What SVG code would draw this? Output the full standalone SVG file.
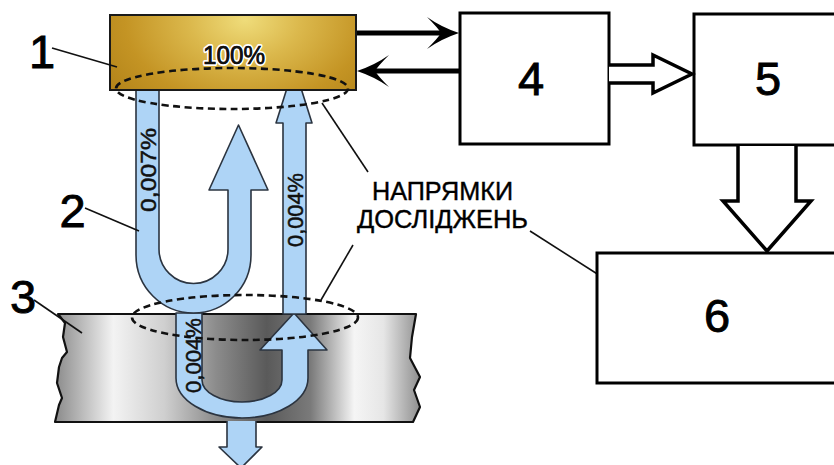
<svg xmlns="http://www.w3.org/2000/svg" width="834" height="465" viewBox="0 0 834 465">
  <defs>
    <radialGradient id="gold" gradientUnits="userSpaceOnUse" cx="245" cy="20" r="160" gradientTransform="translate(245 20) scale(1 0.7) translate(-245 -20)">
      <stop offset="0" stop-color="#efdc7a"/>
      <stop offset="0.35" stop-color="#dbb84c"/>
      <stop offset="0.75" stop-color="#c49424"/>
      <stop offset="1" stop-color="#b5861b"/>
    </radialGradient>
    <linearGradient id="steel" gradientUnits="userSpaceOnUse" x1="55" y1="0" x2="420" y2="0">
      <stop offset="0" stop-color="#8a8a8a"/>
      <stop offset="0.16" stop-color="#f3f3f3"/>
      <stop offset="0.3" stop-color="#cfcfcf"/>
      <stop offset="0.44" stop-color="#8c8c8c"/>
      <stop offset="0.58" stop-color="#5a5a5a"/>
      <stop offset="0.7" stop-color="#7a7a7a"/>
      <stop offset="0.82" stop-color="#f5f5f5"/>
      <stop offset="0.9" stop-color="#e6e6e6"/>
      <stop offset="1" stop-color="#8e8e8e"/>
    </linearGradient>
    <style>
      .flow { fill: #aed4f6; stroke: #2b3440; stroke-width: 1.6; stroke-linejoin: round; }
      .zone { fill: none; stroke: #111; stroke-width: 2.6; stroke-dasharray: 7 4.5; }
      .lead { fill: none; stroke: #111; stroke-width: 1.6; }
      .box { fill: #fff; stroke: #000; stroke-width: 3; }
      .hollow { fill: #fff; stroke: #000; stroke-width: 3.5; stroke-linejoin: miter; }
      .num { font-family: "Liberation Sans", Arial, sans-serif; font-size: 47px; fill: #000; stroke: #000; stroke-width: 0.9; text-anchor: middle; }
      .pct { font-family: "Liberation Sans", Arial, sans-serif; font-size: 22px; fill: #111; stroke: #111; stroke-width: 0.5; text-anchor: middle; }
      .cap { font-family: "Liberation Sans", Arial, sans-serif; font-size: 25px; fill: #000; stroke: #000; stroke-width: 0.4; text-anchor: middle; }
    </style>
  </defs>

  <!-- test specimen (3) -->
  <g id="node-3">
    <path d="M58,314 L416,314 L412,337 L410,358 L420,377 L414,390 L420,407 L413,422 L55,422 L59,405 L62,398 L57,383 L59,367 L62,358 L67,352 L63,337 L65,323 Z" fill="url(#steel)" stroke="#111" stroke-width="2.2" stroke-linejoin="round"/>
  </g>

  <!-- radiation flows -->
  <g id="flows">
    <!-- loop inside the specimen -->
    <path class="flow" d="M176,313 L176,378 A66,40 0 0 0 308,378 L308,350 L327,350 L294,313 L260,350 L282,350 L282,380 A40,22 0 0 1 202,380 L202,313 Z"/>
    <!-- outgoing flow below the specimen -->
    <path class="flow" d="M227,421 L227,447 L219,447 L241,468 L262,447 L256,447 L256,421"/>
    <!-- returning flow up to the source -->
    <path class="flow" d="M283,314 L283,123 L276,123 L294,66 L312,123 L306,123 L306,314 Z"/>
    <!-- emitted flow with upward loop -->
    <path class="flow" d="M136,80 L136,255 A57.5,58 0 0 0 251,255 L251,190 L268,190 L238.5,125 L209,190 L228,190 L228,249 A34.5,34.5 0 0 1 159,249 L159,80 Z"/>
    <text class="pct" transform="translate(155.5,170) rotate(-90)" textLength="84" lengthAdjust="spacingAndGlyphs">0,007%</text>
    <text class="pct" transform="translate(302.5,210) rotate(-90)" textLength="74" lengthAdjust="spacingAndGlyphs">0,004%</text>
    <text class="pct" transform="translate(200.5,355.5) rotate(-90)" textLength="75" lengthAdjust="spacingAndGlyphs">0,004%</text>
  </g>

  <!-- radiation source (1) -->
  <g id="node-1">
    <rect x="110" y="15" width="246" height="75" fill="url(#gold)" stroke="#1a1a1a" stroke-width="2"/>
    <text x="234" y="64" font-family="'Liberation Sans', Arial, sans-serif" font-size="26" text-anchor="middle" fill="#111" stroke="#fff" stroke-width="4" paint-order="stroke" stroke-linejoin="round" textLength="62" lengthAdjust="spacingAndGlyphs">100%</text>
    <text x="234" y="64" font-family="'Liberation Sans', Arial, sans-serif" font-size="26" text-anchor="middle" fill="#111" stroke="#111" stroke-width="0.6" textLength="62" lengthAdjust="spacingAndGlyphs">100%</text>
  </g>

  <!-- investigation zones -->
  <g id="zones">
    <ellipse class="zone" cx="232" cy="88.5" rx="116" ry="20.5"/>
    <ellipse class="zone" cx="245" cy="317.5" rx="113" ry="22.5"/>
  </g>

  <!-- callouts -->
  <g id="labels">
    <text class="num" x="42" y="68">1</text>
    <text class="num" x="72.5" y="227">2</text>
    <text class="num" x="23" y="313">3</text>
    <text class="cap" x="442.5" y="200" textLength="141" lengthAdjust="spacingAndGlyphs">НАПРЯМКИ</text>
    <text class="cap" x="442.5" y="228" textLength="171" lengthAdjust="spacingAndGlyphs">ДОСЛІДЖЕНЬ</text>
    <path class="lead" d="M52,48 L117,67"/>
    <path class="lead" d="M85,208 L139,231"/>
    <path class="lead" d="M34,300 L82,333"/>
    <path class="lead" d="M322,103 L368,172"/>
    <path class="lead" d="M353,245 L321,300"/>
    <path class="lead" d="M530,231 L613,284"/>
  </g>

  <!-- processing blocks -->
  <g id="node-4">
    <rect class="box" x="460" y="13" width="149" height="131"/>
    <text class="num" x="531" y="95">4</text>
  </g>
  <g id="node-5">
    <rect class="box" x="694" y="14" width="160" height="131"/>
    <text class="num" x="768" y="95">5</text>
  </g>
  <g id="node-6">
    <rect class="box" x="597" y="253" width="260" height="130" stroke-width="3.5"/>
    <text class="num" x="717" y="332">6</text>
  </g>

  <!-- connectors between blocks -->
  <g id="connectors">
    <line x1="357" y1="33" x2="446" y2="33" stroke="#000" stroke-width="5"/>
    <path d="M459,33 Q441,27 427,17 Q438,28 441,33 Q438,38 427,49 Q441,39 459,33 Z" fill="#000"/>
    <line x1="372" y1="71" x2="459" y2="71" stroke="#000" stroke-width="5"/>
    <path d="M357,71 Q375,65 389,55 Q378,66 375,71 Q378,76 389,87 Q375,77 357,71 Z" fill="#000"/>
    <path class="hollow" d="M609,65 L653,65 L653,55 L692,74 L653,93 L653,83 L609,83" stroke-width="2.8"/>
    <path class="hollow" d="M738,146 L738,201 L723,201 L767,251 L811,201 L796,201 L796,146" stroke-width="4"/>
  </g>
</svg>
